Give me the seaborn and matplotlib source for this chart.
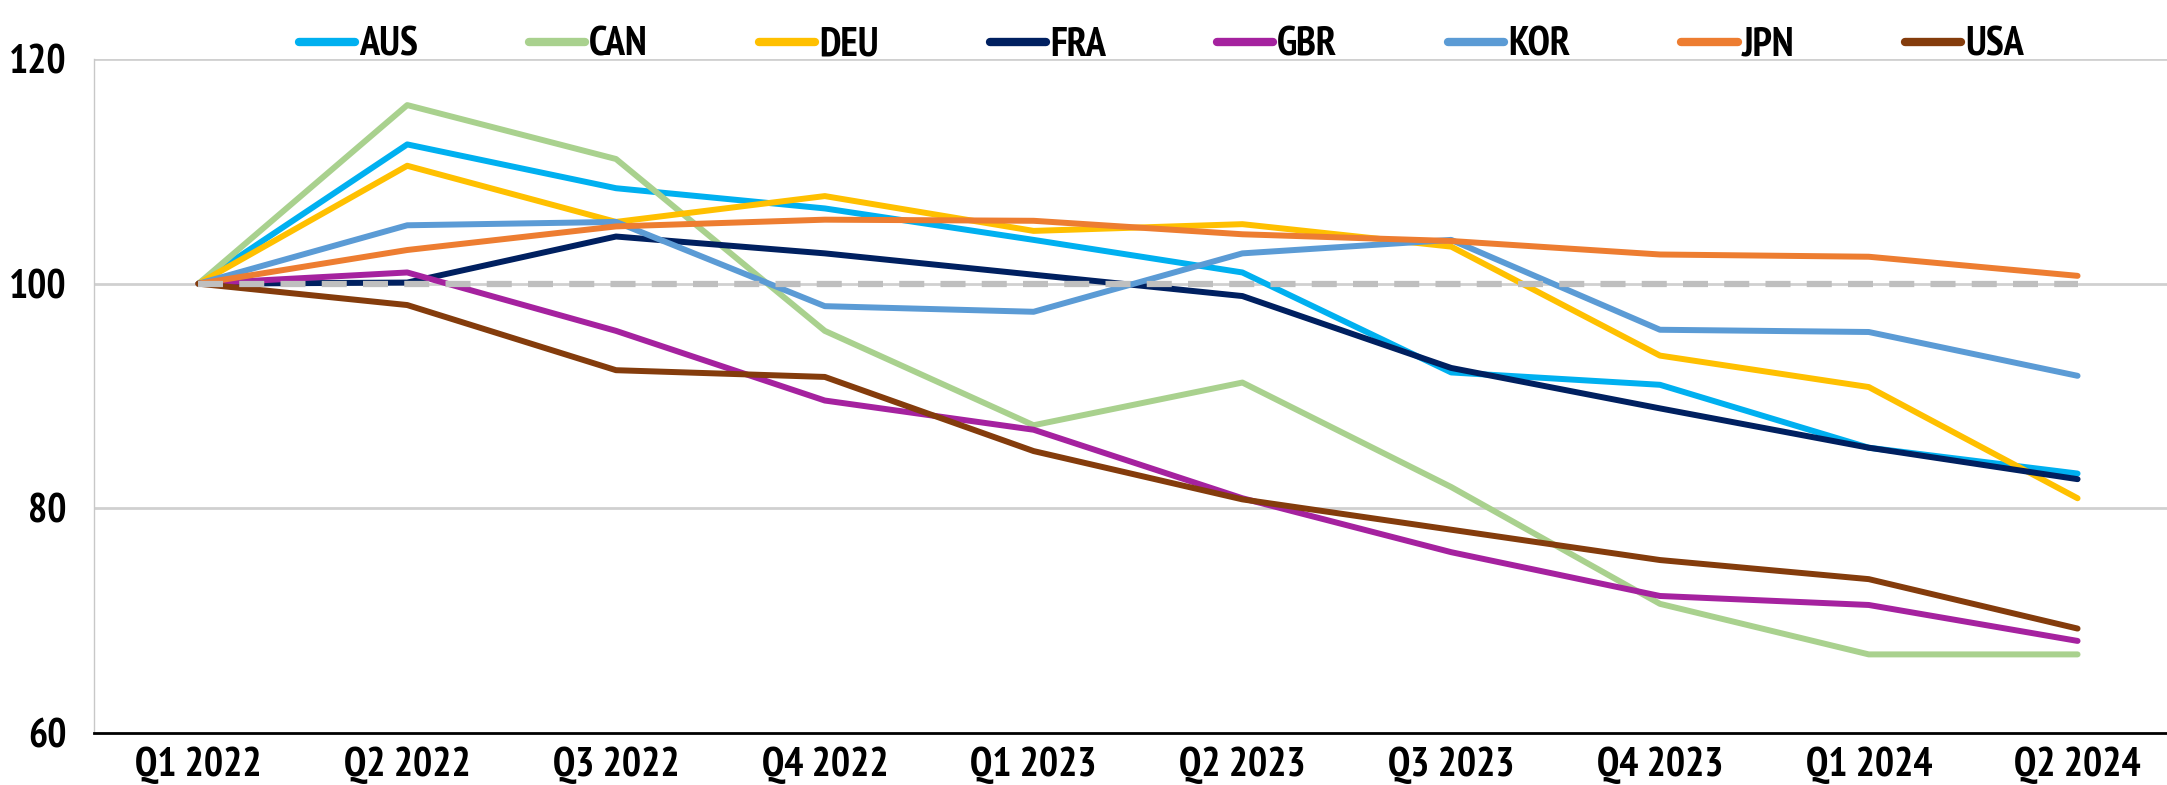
import numpy as np
import pandas as pd
import matplotlib
matplotlib.use("Agg")
import matplotlib.pyplot as plt
from matplotlib import font_manager as fm
import seaborn as sns

# -------------------------------
# Data (index, Q1 2022 = 100)
# -------------------------------
quarters = ["Q1 2022", "Q2 2022", "Q3 2022", "Q4 2022", "Q1 2023",
            "Q2 2023", "Q3 2023", "Q4 2023", "Q1 2024", "Q2 2024"]

aus = [100, 112.4, 108.5, 106.7, 103.9, 101.0, 92.1, 91.0, 85.4, 83.1]
can = [100, 115.9, 111.1, 95.8, 87.4, 91.2, 81.9, 71.5, 67.0, 67.0]
deu = [100, 110.5, 105.5, 107.8, 104.7, 105.3, 103.3, 93.6, 90.8, 80.9]
fra = [100, 100.1, 104.2, 102.7, 100.8, 98.9, 92.5, 88.9, 85.4, 82.6]
gbr = [100, 101.0, 95.8, 89.6, 87.0, 80.9, 76.1, 72.2, 71.4, 68.2]
kor = [100, 105.2, 105.5, 98.0, 97.5, 102.7, 103.9, 95.9, 95.7, 91.8]
jpn = [100, 103.0, 105.1, 105.7, 105.6, 104.4, 103.8, 102.6, 102.4, 100.7]
usa = [100, 98.1, 92.3, 91.7, 85.1, 80.8, 78.1, 75.4, 73.7, 69.3]

countries = ["AUS", "CAN", "DEU", "FRA", "GBR", "KOR", "JPN", "USA"]
series = [aus, can, deu, fra, gbr, kor, jpn, usa]
colors = ["#00B0F0", "#A9D18E", "#FFC000", "#002060",
          "#A5229F", "#5B9BD5", "#ED7D31", "#843C0C"]

df = pd.DataFrame({
    "quarter": np.tile(np.arange(len(quarters)), len(countries)),
    "country": np.repeat(countries, len(quarters)),
    "value": np.concatenate(series),
})

# -------------------------------
# Font: a bold narrow sans (Arial Narrow look), picked by file
# -------------------------------
def pick_font():
    fonts = fm.fontManager.ttflist
    for want in ("Liberation Sans Narrow", "Narrow", "Condensed"):
        hits = [f for f in fonts if want in f.name and "Italic" not in f.fname
                and f.style == "normal"]
        bold = [f for f in hits if "Bold" in f.fname or
                (isinstance(f.weight, int) and f.weight >= 600) or f.weight == "bold"]
        if bold:
            return fm.FontProperties(fname=bold[0].fname)
    return fm.FontProperties(family="DejaVu Sans", weight="bold", stretch="condensed")

def fp(size):
    p = FONT.copy()
    p.set_size(size)
    return p

sns.set_theme(style="white")
FONT = pick_font()

# -------------------------------
# Plot
# -------------------------------
fig = plt.figure(figsize=(21.67, 7.85), dpi=100)
ax = fig.add_axes([0.0434, 0.0662, 0.9635, 0.8586])

# reference line at 100
ax.plot([0, len(quarters) - 1], [100, 100], color="#BFBFBF", lw=4.5,
        dashes=(4, 2.6), zorder=2.5, solid_capstyle="butt")

sns.lineplot(data=df, x="quarter", y="value", hue="country",
             hue_order=countries, palette=colors, lw=4.3, ax=ax,
             zorder=2, legend=True)

ax.set_ylim(60, 120)
ax.set_xlim(-0.5, 9.5)
ax.set_yticks([60, 80, 100, 120])
ax.set_yticklabels(["60", "80", "100", "120"], fontproperties=fp(29), color="black")
ax.tick_params(axis="y", length=0, pad=20)

# category labels in the middle of each bin, ticks at bin edges
ax.set_xticks(np.arange(-0.5, 9.5, 1.0))
ax.set_xticklabels([])
ax.set_xticks(np.arange(len(quarters)), minor=True)
ax.set_xticklabels(quarters, minor=True, fontproperties=fp(29), color="black")
ax.tick_params(axis="x", which="major", direction="in", length=10, width=1.5,
               color="black")
ax.tick_params(axis="x", which="minor", length=0, pad=10)

ax.set_xlabel("")
ax.set_ylabel("")
for y in [80, 100, 120]:
    ax.axhline(y, color="#D0D0D0", lw=2, zorder=1)

for s in ["top", "right"]:
    ax.spines[s].set_visible(False)
ax.spines["left"].set_color("#C8C8C8")
ax.spines["left"].set_linewidth(1)
ax.spines["bottom"].set_color("black")
ax.spines["bottom"].set_linewidth(2)

handles, labels = ax.get_legend_handles_labels()
leg = ax.legend(handles, labels, loc="upper center", ncol=8,
                bbox_to_anchor=(0.536, 1.012), bbox_transform=fig.transFigure,
                frameon=False, handlelength=1.4, handletextpad=0.1,
                columnspacing=2.75, prop=fp(29))
for line in leg.get_lines():
    line.set_linewidth(6)
    line.set_solid_capstyle("round")
for t in leg.get_texts():
    t.set_color("black")

fig.savefig("out.png", dpi=100)
